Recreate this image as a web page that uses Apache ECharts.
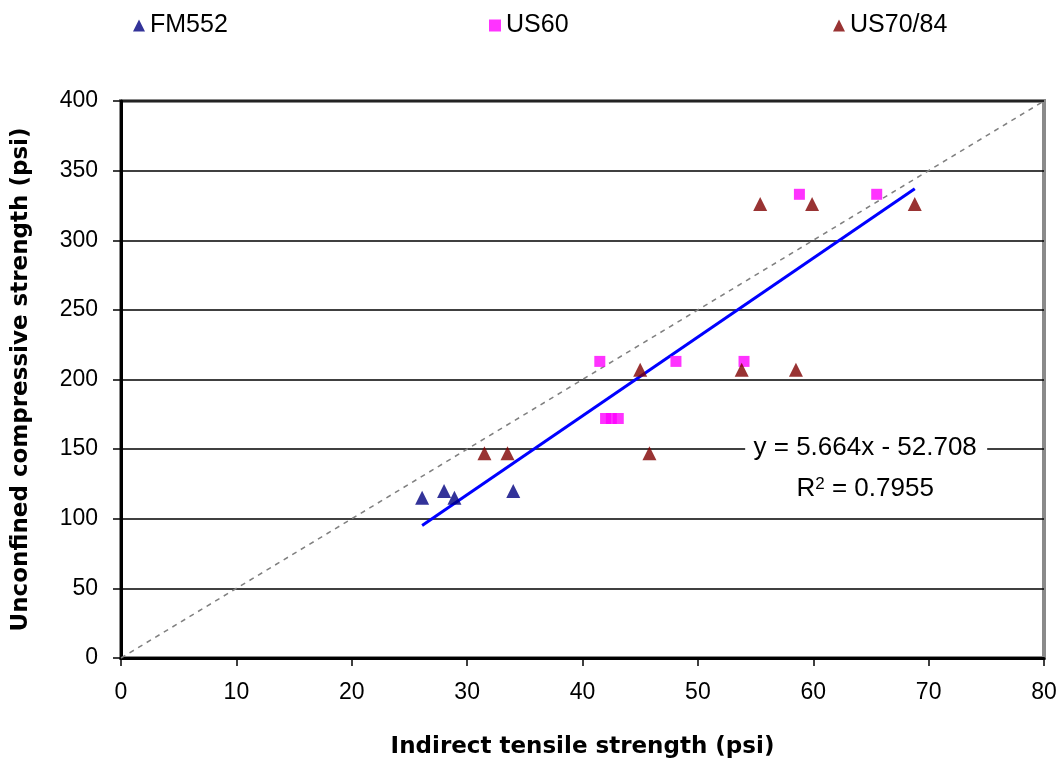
<!DOCTYPE html>
<html>
<head>
<meta charset="utf-8">
<script src="https://cdn.jsdelivr.net/npm/echarts@6/dist/echarts.min.js"></script>
<style>
html,body{margin:0;padding:0;background:#fff;}
#c{width:1059px;height:766px;}
</style>
</head>
<body>
<div id="c"></div>
<script>
const seriesNames = ['FM552', 'US60', 'US70/84'];
const fm552 = [[26.1, 115], [28.0, 120], [28.9, 115], [34.0, 120]];
const us60 = [[41.5, 213], [48.1, 213], [54.0, 213], [58.8, 333], [65.5, 333], [42.0, 172], [42.5, 172], [43.1, 172]];
const us7084 = [[31.5, 147], [33.5, 147], [45.8, 147], [45.0, 207], [53.8, 207], [58.5, 207], [55.4, 326], [59.9, 326], [68.8, 326]];
const trendSlope = 5.664, trendIntercept = -52.708, r2 = 0.7955;
const trendXRange = [26.1, 68.8];
const equalityLine = [[0, 0], [80, 400]];
const xTicks = [0, 10, 20, 30, 40, 50, 60, 70, 80];
const yTicks = [0, 50, 100, 150, 200, 250, 300, 350, 400];
const xTitle = 'Indirect tensile strength (psi)';
const yTitle = 'Unconfined compressive strength (psi)';

const trendData = trendXRange.map(x => [x, trendSlope * x + trendIntercept]);
const SANS = "'Liberation Sans',Arial,sans-serif";
const BOLD = "'DejaVu Sans',Verdana,sans-serif";

const chart = echarts.init(document.getElementById('c'));
const legendBase = {top: 8, itemWidth: 12, itemHeight: 12, textStyle: {fontFamily: SANS, fontSize: 25, color: '#000'}};
chart.setOption({
  animation: false,
  backgroundColor: '#fff',
  grid: {left: 121, right: 15, top: 101, bottom: 108, show: true, borderColor: '#8a8a8a', borderWidth: 4,
         containLabel: false, outerBoundsMode: 'none'},
  legend: [
    Object.assign({left: 128, data: [seriesNames[0]]}, legendBase),
    Object.assign({left: 484, data: [seriesNames[1]]}, legendBase),
    Object.assign({left: 828, data: [seriesNames[2]]}, legendBase)
  ],
  xAxis: {
    type: 'value', min: xTicks[0], max: xTicks[xTicks.length - 1], interval: 10,
    name: xTitle, nameLocation: 'middle', nameGap: 78,
    nameTextStyle: {fontFamily: BOLD, fontWeight: 'bold', fontSize: 23, color: '#000'},
    axisLine: {show: true, onZero: false, lineStyle: {color: '#000', width: 3}},
    axisTick: {show: true, length: 8, lineStyle: {color: '#000', width: 1.5}},
    axisLabel: {margin: 23, fontFamily: SANS, fontSize: 23, color: '#000'},
    splitLine: {show: false}
  },
  yAxis: {
    type: 'value', min: yTicks[0], max: yTicks[yTicks.length - 1], interval: 50,
    name: yTitle, nameLocation: 'middle', nameGap: 88, nameRotate: 90,
    nameTextStyle: {fontFamily: BOLD, fontWeight: 'bold', fontSize: 23, color: '#000'},
    axisLine: {show: true, onZero: false, lineStyle: {color: '#000', width: 3}},
    axisTick: {show: true, length: 8, lineStyle: {color: '#000', width: 1.5}},
    axisLabel: {margin: 23, fontFamily: SANS, fontSize: 23, color: '#000'},
    splitLine: {show: true, lineStyle: {color: '#000', width: 1.5}}
  },
  series: [
    {name: 'equality', type: 'line', data: equalityLine, symbol: 'none', silent: true,
     lineStyle: {color: '#808080', width: 1.5, type: [5, 5]}, z: 1},
    {name: 'trend', type: 'line', data: trendData, symbol: 'none', silent: true,
     lineStyle: {color: '#0000ff', width: 3}, z: 2},
    {name: seriesNames[0], type: 'scatter', data: fm552, symbol: 'triangle', symbolSize: [14, 14],
     itemStyle: {color: '#000080'}, z: 3},
    {name: seriesNames[1], type: 'scatter', data: us60, symbol: 'rect', symbolSize: 11,
     itemStyle: {color: '#ff00ff'}, z: 3},
    {name: seriesNames[2], type: 'scatter', data: us7084, symbol: 'triangle', symbolSize: [14, 14],
     itemStyle: {color: '#800000'}, z: 3}
  ]
});

const eqPos = chart.convertToPixel({gridIndex: 0}, [64.5, 150]);
chart.setOption({
  graphic: [
    {type: 'rect', shape: {x: eqPos[0] - 120, y: eqPos[1] - 14, width: 242, height: 26}, style: {fill: '#fff'}, z: 10},
    {type: 'text', x: eqPos[0], y: eqPos[1] - 1, z: 11,
     style: {text: 'y = 5.664x - 52.708', fontFamily: SANS, fontSize: 26, fill: '#000', align: 'center', verticalAlign: 'middle'}},
    {type: 'text', x: eqPos[0], y: eqPos[1] + 40, z: 11,
     style: {text: '{a|R}{s|2}{a| = ' + r2.toFixed(4) + '}', align: 'center', verticalAlign: 'middle',
       rich: {a: {fontFamily: SANS, fontSize: 26, color: '#000'},
              s: {fontFamily: SANS, fontSize: 17, color: '#000', verticalAlign: 'top', padding: [0, 0, 10, 0]}}}}
  ]
});
</script>
</body>
</html>
